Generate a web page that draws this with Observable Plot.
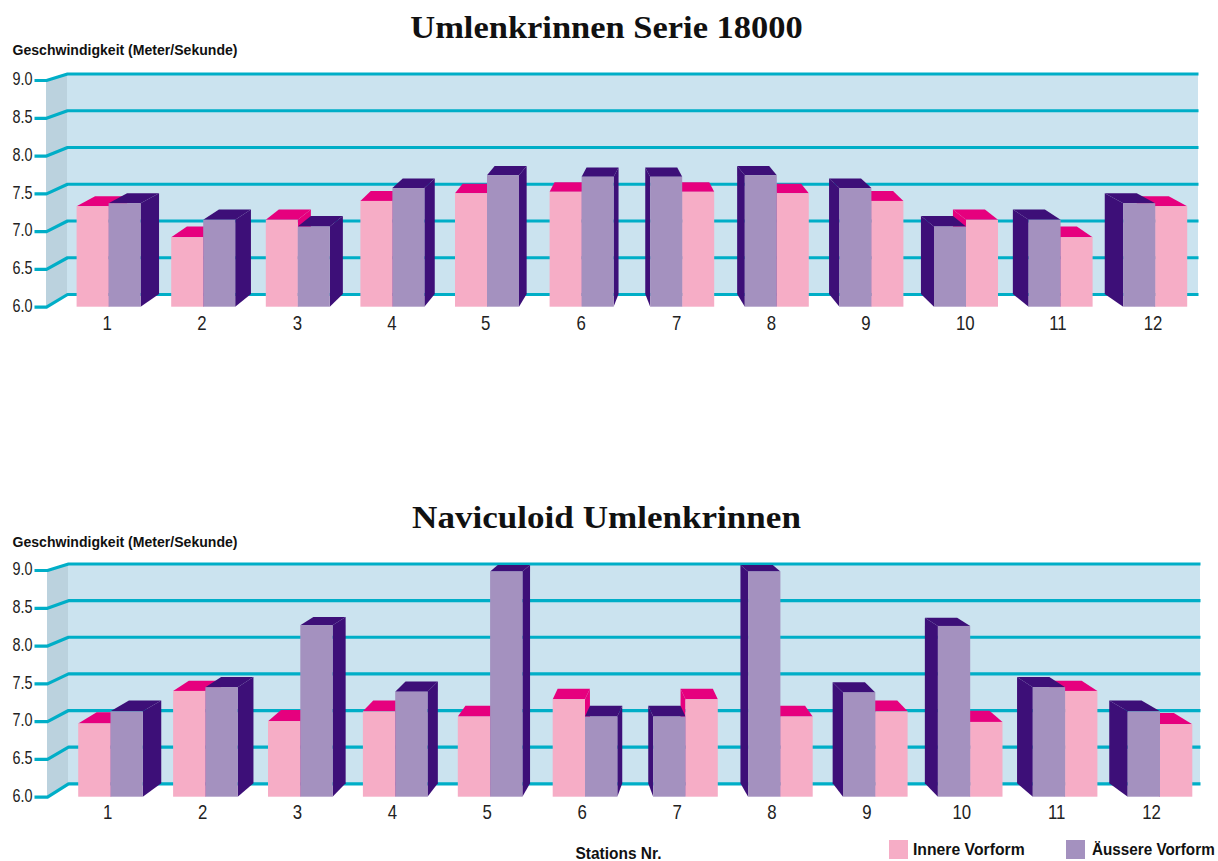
<!DOCTYPE html>
<html><head><meta charset="utf-8">
<script src="https://cdn.jsdelivr.net/npm/d3@7"></script>
<script src="https://cdn.jsdelivr.net/npm/@observablehq/plot@0.6"></script>
<style>
html,body{margin:0;padding:0;background:#fff;width:1218px;height:861px;overflow:hidden}
#page{position:relative;width:1218px;height:861px}
.panel{position:absolute;left:0}
.panel svg{display:block;background:transparent}
.title{position:absolute;left:0;width:1213px;text-align:center;font:bold 32px "Liberation Serif",serif;color:#111}
.leg{position:absolute;top:841px;font:bold 17px "Liberation Sans",sans-serif;color:#111;line-height:18px;white-space:nowrap;transform-origin:0 50%}
.sw{position:absolute;top:840px;width:19px;height:19px}
</style></head><body><div id="page"></div>
<script>
const stations=[1,2,3,4,5,6,7,8,9,10,11,12];
const tickValues=[6,6.5,7,7.5,8,8.5,9];
const tickLabels=["6.0","6.5","7.0","7.5","8.0","8.5","9.0"];
const titleTop="Umlenkrinnen Serie 18000";
const titleBottom="Naviculoid Umlenkrinnen";
const yTitle="Geschwindigkeit (Meter/Sekunde)";
const xTitle="Stations Nr.";
const innerName="Innere Vorform";
const outerName="Äussere Vorform";
const innerTop=[7.33,6.92,7.15,7.40,7.50,7.52,7.52,7.50,7.40,7.15,6.92,7.33];
const outerTop=[7.37,7.15,7.06,7.57,7.74,7.72,7.72,7.74,7.57,7.06,7.15,7.37];
const innerBottom=[6.97,7.40,7.00,7.13,7.06,7.29,7.29,7.06,7.13,6.99,7.40,6.96];
const outerBottom=[7.13,7.45,8.27,7.39,8.98,7.06,7.06,8.98,7.38,8.26,7.45,7.13];

const C={pink:"#f6adc6",magenta:"#e6007e",purple:"#a491bf",dark:"#3d0f78",wall:"#cbe3ef",side:"#bbd2de",teal:"#00aec7"};
const sans='"Liberation Sans",sans-serif';

function squeeze(text,target){
  // condensed lettering: keep real text, fit it to the reference's width
  text.setAttribute("textLength",target);
  text.setAttribute("lengthAdjust","spacingAndGlyphs");
}

function panel({inner,outer,top,height,backTop,backBottom,frontTop,frontBottom,x0,unit,gap,halfBar,wallRight,wallLeft,wallDepth,tickStart,labelX,yLabelY,tickPad,xLabel}){
  const page=document.getElementById("page");
  const kBack=(backBottom-backTop)/3;
  const frontVal=v=>6+(backBottom-(frontBottom-(v-6)*(frontBottom-frontTop)/3))/kBack;
  const X=px=>1+(px-x0)/unit;                 // pixel-size lengths expressed in station units
  const center=s=>s+(s>6?gap/unit:0);
  const half=halfBar/unit;
  const depth=s=>Math.sign(6.5-s)*(3.6+2.7*Math.abs(s-6.5))/unit;
  const faces=(vals,leftOf)=>{
    const side=[],tp=[],front=[];
    stations.forEach((s,i)=>{
      const c=center(s),d=depth(s),v=vals[i];
      const first=leftOf(s);
      const x1=first?c-half:c,x2=first?c:c+half;
      const ex=d>0?x2:x1;
      side.push({id:s,x:ex,y1:frontVal(6),y2:frontVal(v)},{id:s,x:ex+d,y1:6,y2:v});
      tp.push({id:s,y:frontVal(v),x1,x2},{id:s,y:v,x1:x1+d,x2:x2+d});
      front.push({x1,x2,y1:frontVal(6),y2:frontVal(v)});
    });
    return {side,tp,front};
  };
  const pink=faces(inner,s=>s<=6), purp=faces(outer,s=>s>6);
  const wallBack=wallLeft+wallDepth;
  const grid=tickValues.flatMap(v=>[
    {v,x:X(tickStart),y:frontVal(v)},{v,x:X(wallLeft),y:frontVal(v)},
    {v,x:X(wallBack),y:v},{v,x:X(wallRight),y:v}]);
  const sideWall=[{x:X(wallLeft),y1:frontVal(6),y2:frontVal(9)},{x:X(wallBack),y1:6,y2:9}];
  const marks=[
    Plot.rect([{}],{x1:X(wallBack),x2:X(wallRight),y1:6,y2:9,fill:C.wall}),
    Plot.areaY(sideWall,{x:"x",y1:"y1",y2:"y2",fill:C.side}),
    Plot.line(grid,{x:"x",y:"y",z:"v",stroke:C.teal,strokeWidth:3.2,strokeLinejoin:"round",strokeLinecap:"butt"}),
    Plot.areaY(pink.side,{x:"x",y1:"y1",y2:"y2",z:"id",fill:C.magenta}),
    Plot.areaX(pink.tp,{y:"y",x1:"x1",x2:"x2",z:"id",fill:C.magenta}),
    Plot.areaY(purp.side,{x:"x",y1:"y1",y2:"y2",z:"id",fill:C.dark}),
    Plot.areaX(purp.tp,{y:"y",x1:"x1",x2:"x2",z:"id",fill:C.dark}),
    Plot.rect(pink.front,{x1:"x1",x2:"x2",y1:"y1",y2:"y2",fill:C.pink}),
    Plot.rect(purp.front,{x1:"x1",x2:"x2",y1:"y1",y2:"y2",fill:C.purple}),
    Plot.axisY(tickValues.map(frontVal),{tickSize:0,tickPadding:wallBack-32,label:null,fontSize:18,dy:-1,fontFamily:sans,fill:"#222",
      tickFormat:(d,i)=>tickLabels[i],className:"ytick"}),
    Plot.axisX(labelX,{tickSize:0,tickPadding:tickPad,label:null,fontSize:21,fontFamily:sans,fill:"#222",
      tickFormat:(d,i)=>String(stations[i]),className:"xtick"}),
    Plot.text([yTitle],{text:d=>d,x:X(12),y:()=>6+(backBottom-(yLabelY-top))/kBack,textAnchor:"start",fontSize:15.5,fontWeight:"bold",fontFamily:sans,fill:"#111",className:"ytitle"})
  ];
  if(xLabel) marks.push(Plot.text([xTitle],{text:d=>d,x:X(618),y:()=>6+(backBottom-(853-top))/kBack,fontSize:17,fontWeight:"bold",fontFamily:sans,fill:"#111",className:"xtitle"}));
  const chart=Plot.plot({
    width:1218,height,
    marginLeft:wallBack,marginRight:1218-wallRight,marginTop:backTop,marginBottom:height-backBottom,
    x:{domain:[X(wallBack),X(wallRight)],axis:null},
    y:{domain:[6,9],axis:null},
    style:{background:"transparent",overflow:"visible"},
    marks
  });
  const d=document.createElement("div");d.className="panel";d.style.top=top+"px";d.appendChild(chart);page.appendChild(d);
  chart.querySelectorAll(".ytick text").forEach(t=>squeeze(t,20));
  chart.querySelectorAll(".xtick text").forEach(t=>squeeze(t,t.getComputedTextLength()*.8));
  chart.querySelectorAll(".ytitle text").forEach(t=>squeeze(t,225));
  chart.querySelectorAll(".xtitle text").forEach(t=>squeeze(t,86));
}

panel({inner:innerTop,outer:outerTop,top:0,height:345,backTop:73.5,backBottom:294,frontTop:80,frontBottom:306.7,
  x0:108.6,unit:94.6,gap:6,halfBar:32,wallLeft:46,wallDepth:21,wallRight:1198,tickStart:34,yLabelY:50,
  labelX:stations.map((s,i)=>s+[-.02,-.02,-.01,-.01,-.02,-.01,0,0,0,.05,.03,.035][i]),tickPad:21});
panel({inner:innerBottom,outer:outerBottom,top:490,height:371,backTop:73.5,backBottom:293.3,frontTop:80,frontBottom:306.7,
  x0:110.5,unit:94.9,gap:5.6,halfBar:32.3,wallLeft:47,wallDepth:21,wallRight:1200,tickStart:34,yLabelY:542,
  labelX:stations.map(s=>s-.035),tickPad:20,xLabel:true});

const page=document.getElementById("page");
function add(cls,css,text){const e=document.createElement("div");e.className=cls;e.style.cssText=css;if(text)e.textContent=text;page.appendChild(e);return e;}
add("title","top:9px;transform:scaleX(1.077)",titleTop);
add("title","top:499px;transform:scaleX(1.096)",titleBottom);
add("sw",`left:889px;background:${C.pink}`);
const l1=add("leg","left:913px",innerName);
add("sw",`left:1066px;background:${C.purple}`);
const l2=add("leg","left:1092px",outerName);
l1.style.transform=`scaleX(${112/l1.offsetWidth})`;
l2.style.transform=`scaleX(${123/l2.offsetWidth})`;
</script></body></html>
